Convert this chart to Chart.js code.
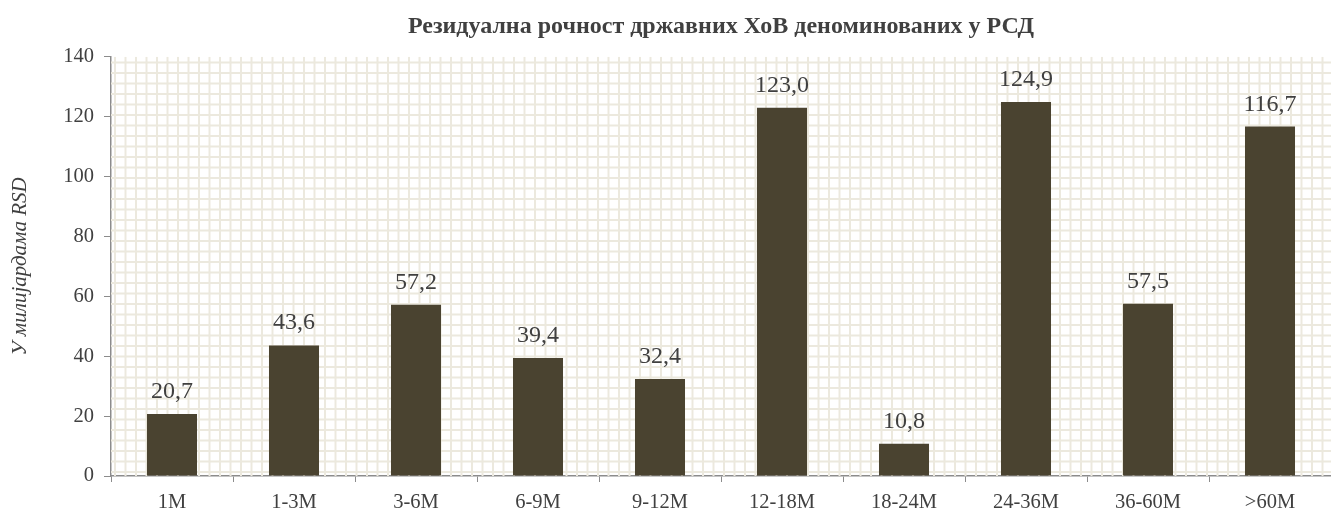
<!DOCTYPE html>
<html>
<head>
<meta charset="utf-8">
<script src="https://cdn.jsdelivr.net/npm/chart.js@4"></script>
<style>
  body { margin: 0; background: #fff; }
  #wrap { width: 1331px; height: 511px; }
</style>
</head>
<body>
<div id="wrap"><canvas id="barChart"></canvas></div>
<script>
const categories = ['1M', '1-3M', '3-6M', '6-9M', '9-12M', '12-18M', '18-24M', '24-36M', '36-60M', '>60M'];
const values = [20.7, 43.6, 57.2, 39.4, 32.4, 123.0, 10.8, 124.9, 57.5, 116.7];
const yTicks = [0, 20, 40, 60, 80, 100, 120, 140];

const serif = "'Liberation Serif', 'DejaVu Serif', serif";
const textColor = '#404040';
const axisColor = '#8c8c8c';

// beige small-grid fill behind the bars
const patternBg = {
    id: 'patternBg',
    beforeDatasetsDraw(chart) {
        const a = chart.chartArea;
        const c = chart.ctx;
        c.save();
        c.beginPath();
        c.rect(a.left, a.top, a.right - a.left, a.bottom - a.top);
        c.clip();
        c.strokeStyle = '#ece9de';
        c.lineWidth = 2;
        const step = 10.5;
        c.beginPath();
        for (let x = a.left + 4; x < a.right; x += step) {
            c.moveTo(x, a.top);
            c.lineTo(x, a.bottom);
        }
        for (let y = a.bottom - 4; y > a.top; y -= step) {
            c.moveTo(a.left, y);
            c.lineTo(a.right, y);
        }
        c.stroke();
        c.restore();
    }
};

const valueLabels = {
    id: 'valueLabels',
    afterDatasetsDraw(chart) {
        const c = chart.ctx;
        const meta = chart.getDatasetMeta(0);
        c.save();
        c.font = '24px ' + serif;
        c.fillStyle = textColor;
        c.textAlign = 'center';
        c.textBaseline = 'alphabetic';
        meta.data.forEach((bar, i) => {
            c.fillText(values[i].toFixed(1).replace('.', ','), bar.x, bar.y - 16);
        });
        c.restore();
    }
};

const chart = new Chart(document.getElementById('barChart'), {
    type: 'bar',
    data: {
        labels: categories,
        datasets: [{
            data: values,
            backgroundColor: '#4a4330',
            barPercentage: 0.41,
            categoryPercentage: 1
        }]
    },
    options: {
        responsive: true,
        maintainAspectRatio: false,
        animation: false,
        layout: {
            padding: { left: 0, right: 0, top: 0, bottom: 0 }
        },
        plugins: {
            legend: { display: false },
            tooltip: { enabled: false },
            title: {
                display: true,
                fullSize: false,
                text: 'Резидуална рочност државних ХоВ деноминованих у РСД',
                color: textColor,
                font: { family: serif, size: 24, weight: 'bold' },
                padding: { top: 12, bottom: 16 }
            }
        },
        scales: {
            x: {
                grid: {
                    offset: true,
                    drawOnChartArea: false,
                    color: axisColor,
                    tickLength: 6
                },
                border: { color: axisColor, width: 1.5 },
                ticks: {
                    color: textColor,
                    font: { family: serif, size: 20.5 },
                    padding: 8,
                    maxRotation: 0
                },
                afterFit(scale) { scale.height = 35; }
            },
            y: {
                min: 0,
                max: 140,
                afterBuildTicks(scale) { scale.ticks = yTicks.map(v => ({ value: v })); },
                grid: {
                    drawOnChartArea: false,
                    color: axisColor,
                    tickLength: 7
                },
                border: { color: axisColor, width: 1.5 },
                ticks: {
                    color: textColor,
                    font: { family: serif, size: 20.5 },
                    padding: 10
                },
                title: {
                    display: true,
                    text: 'У милијардама RSD',
                    color: textColor,
                    font: { family: serif, size: 21, style: 'italic' },
                    padding: { top: 8, bottom: 0 }
                },
                afterFit(scale) { scale.width = 111; }
            }
        }
    },
    plugins: [patternBg, valueLabels]
});
</script>
</body>
</html>
